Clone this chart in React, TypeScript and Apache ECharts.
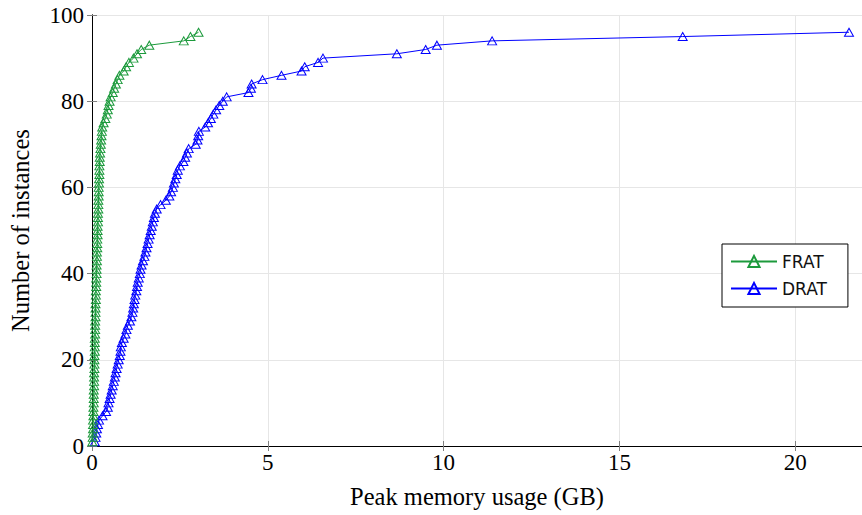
import React, { useEffect, useRef } from "react";
import * as echarts from "echarts";

// Cumulative counts: the k-th value is the memory (GB) at which k instances are reached
const fratMemory = [
  0.01, 0.02, 0.02, 0.03, 0.03, 0.03, 0.04, 0.04, 0.04, 0.05,
  0.05, 0.05, 0.05, 0.06, 0.06, 0.06, 0.06, 0.07, 0.07, 0.07,
  0.07, 0.08, 0.08, 0.08, 0.08, 0.09, 0.09, 0.09, 0.09, 0.10,
  0.10, 0.10, 0.10, 0.11, 0.11, 0.11, 0.12, 0.12, 0.12, 0.13,
  0.13, 0.13, 0.14, 0.14, 0.14, 0.15, 0.15, 0.15, 0.16, 0.16,
  0.16, 0.17, 0.17, 0.17, 0.18, 0.18, 0.18, 0.19, 0.19, 0.19,
  0.20, 0.20, 0.21, 0.21, 0.21, 0.22, 0.22, 0.23, 0.24, 0.25,
  0.26, 0.27, 0.28, 0.29, 0.33, 0.38, 0.42, 0.45, 0.47, 0.50,
  0.53, 0.59, 0.63, 0.68, 0.73, 0.78, 0.90, 0.97, 1.05, 1.18,
  1.28, 1.40, 1.63, 2.61, 2.80, 3.03,
];

const dratMemory = [
  0.08, 0.10, 0.12, 0.14, 0.17, 0.20, 0.30, 0.40, 0.45, 0.47,
  0.50, 0.53, 0.56, 0.59, 0.62, 0.65, 0.67, 0.70, 0.73, 0.76,
  0.79, 0.81, 0.82, 0.85, 0.90, 0.95, 0.98, 1.02, 1.08, 1.12,
  1.15, 1.17, 1.19, 1.21, 1.23, 1.26, 1.28, 1.30, 1.33, 1.36,
  1.38, 1.41, 1.45, 1.49, 1.52, 1.55, 1.58, 1.61, 1.64, 1.67,
  1.70, 1.73, 1.76, 1.79, 1.84, 1.95, 2.10, 2.20, 2.25, 2.30,
  2.33, 2.37, 2.41, 2.44, 2.50, 2.60, 2.65, 2.70, 2.75, 2.95,
  3.00, 3.02, 3.04, 3.22, 3.30, 3.38, 3.45, 3.53, 3.62, 3.72,
  3.83, 4.45, 4.52, 4.54, 4.85, 5.39, 5.96, 6.05, 6.43, 6.57,
  8.67, 9.49, 9.81, 11.38, 16.8, 21.53,
];

const seriesNames = ["FRAT", "DRAT"];
const seriesColors = ["#1c9a3c", "#0000ff"];
const xTicks = [0, 5, 10, 15, 20];
const yTicks = [0, 20, 40, 60, 80, 100];

const SERIF = "'Liberation Serif', 'DejaVu Serif', serif";

export default function App() {
  const ref = useRef<HTMLDivElement>(null);

  useEffect(() => {
    document.body.style.margin = "0";
    if (!ref.current) return;
    const chart = echarts.init(ref.current, null, { renderer: "svg" });

    const toPairs = (arr: number[]) => arr.map((x, i) => [x, i + 1]);
    const datasets = [toPairs(fratMemory), toPairs(dratMemory)];

    const tickStyle = { show: true, inside: true, length: 5, lineStyle: { color: "#808080", width: 1 } };
    const lineStyle = { show: true, lineStyle: { color: "#000", width: 1 } };

    chart.setOption({
      animation: false,
      backgroundColor: "#fff",
      grid: { left: 92, right: -4, top: 15, bottom: 69, containLabel: false },
      legend: {
        orient: "vertical",
        left: 722,
        top: 244,
        padding: [9, 21, 10, 8],
        itemWidth: 46,
        itemHeight: 14,
        itemGap: 10,
        borderColor: "#000",
        borderWidth: 1,
        backgroundColor: "#fff",
        textStyle: { fontFamily: "'DejaVu Sans', sans-serif", fontSize: 17, color: "#111" },
        data: seriesNames,
      },
      xAxis: [
        {
          type: "value",
          min: 0,
          max: 21.9,
          interval: 5,
          position: "bottom",
          name: "Peak memory usage (GB)",
          nameLocation: "middle",
          nameGap: 38,
          nameTextStyle: { fontFamily: SERIF, fontSize: 24.5, color: "#000" },
          axisLine: lineStyle,
          axisTick: tickStyle,
          axisLabel: {
            margin: 5,
            fontFamily: SERIF,
            fontSize: 23,
            color: "#000",
            showMaxLabel: false,
            formatter: (v: number) => (xTicks.includes(v) ? String(v) : ""),
          },
          splitLine: { show: true, lineStyle: { color: "#e6e6e6", width: 1 } },
        },
        {
          type: "value",
          min: 0,
          max: 21.9,
          interval: 5,
          position: "top",
          axisLine: lineStyle,
          axisTick: tickStyle,
          axisLabel: { show: false },
          splitLine: { show: false },
        },
      ],
      yAxis: [
        {
          type: "value",
          min: 0,
          max: 100,
          interval: 20,
          position: "left",
          name: "Number of instances",
          nameLocation: "middle",
          nameGap: 59,
          nameTextStyle: { fontFamily: SERIF, fontSize: 24.5, color: "#000", padding: [0, 0, 0, 0] },
          axisLine: lineStyle,
          axisTick: tickStyle,
          axisLabel: {
            margin: 8,
            fontFamily: SERIF,
            fontSize: 23,
            color: "#000",
            formatter: (v: number) => (yTicks.includes(v) ? String(v) : ""),
          },
          splitLine: { show: true, lineStyle: { color: "#e6e6e6", width: 1 } },
        },
        {
          type: "value",
          min: 0,
          max: 100,
          interval: 20,
          position: "right",
          axisLine: lineStyle,
          axisTick: tickStyle,
          axisLabel: { show: false },
          splitLine: { show: false },
        },
      ],
      series: seriesNames.map((name, i) => ({
        name,
        type: "line",
        xAxisIndex: 0,
        yAxisIndex: 0,
        data: datasets[i],
        symbol: "triangle",
        symbolSize: [9, 8],
        showAllSymbol: true,
        lineStyle: { color: seriesColors[i], width: 1 },
        itemStyle: { color: "rgba(255,255,255,0)", borderColor: seriesColors[i], borderWidth: 1 },
        emphasis: { disabled: true },
        z: i === 0 ? 3 : 2,
      })),
    });

    return () => chart.dispose();
  }, []);

  return <div ref={ref} style={{ width: 862, height: 515 }} />;
}
